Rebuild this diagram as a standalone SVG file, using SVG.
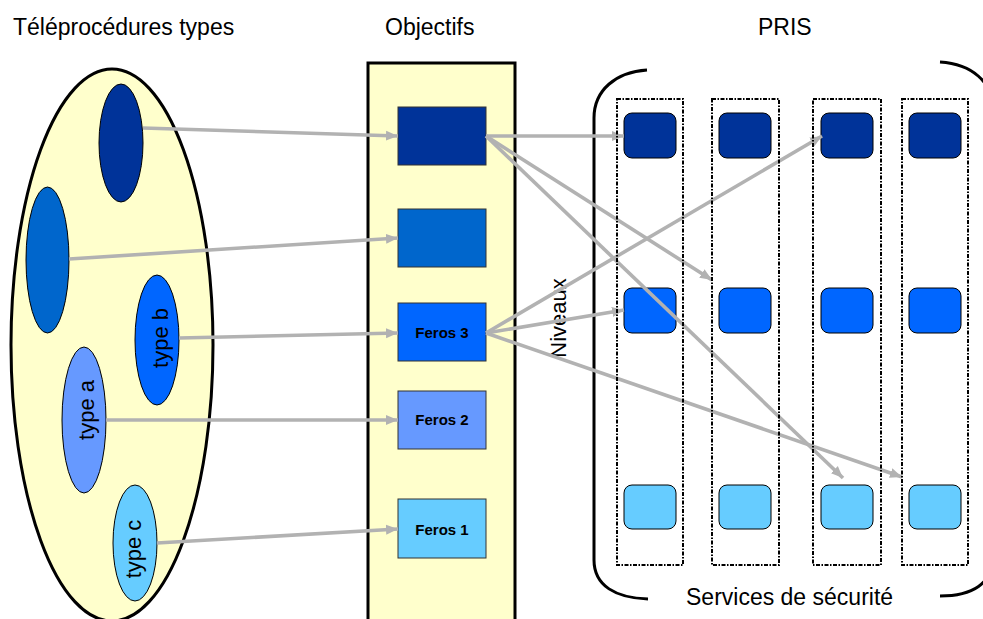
<svg xmlns="http://www.w3.org/2000/svg" width="983" height="619" viewBox="0 0 983 619">
<defs>
<marker id="ah" markerUnits="userSpaceOnUse" markerWidth="13" markerHeight="11" refX="12" refY="5.5" orient="auto">
<path d="M0,0.5 L12,5.5 L0,10.5 z" fill="#B2B2B2"/>
</marker>
<style>
.t{font-family:"Liberation Sans",Arial,sans-serif;fill:#000}
.title{font-size:23px}
.lab{font-size:22px}
.fer{font-size:15px;font-weight:bold;text-anchor:middle}
.ie{stroke:#000;stroke-width:1}
.ob{stroke:#333;stroke-width:1}
.rb{stroke:#000;stroke-width:1}
.col{fill:none;stroke:#000;stroke-width:2;stroke-dasharray:4 1.5 1.5 1.5}
.ca{stroke:#B2B2B2;stroke-width:3.6;fill:none;marker-end:url(#ah)}
.d1{fill:#003399}.d2{fill:#0066CC}.d3{fill:#0066FF}.d4{fill:#6699FF}.d5{fill:#66CCFF}
</style>
</defs>
<rect width="983" height="619" fill="#fff"/>
<g id="titles">
<text class="t title" x="13" y="35">Téléprocédures types</text>
<text class="t title" x="385" y="35">Objectifs</text>
<text class="t title" x="758" y="35">PRIS</text>
<text class="t title" x="686" y="605">Services de sécurité</text>
<text class="t lab" transform="translate(566,318) rotate(-90)" text-anchor="middle">Niveaux</text>
</g>
<g id="teleprocedures">
<ellipse cx="112" cy="345" rx="101" ry="276" fill="#FFFFCC" stroke="#000" stroke-width="3"/>
</g>
<g id="tp-1"><ellipse class="ie d1" cx="121" cy="143" rx="22" ry="59"/></g>
<g id="tp-2"><ellipse class="ie d2" cx="47.5" cy="260" rx="21.5" ry="73"/></g>
<g id="type-b"><ellipse class="ie d3" cx="157" cy="340" rx="22" ry="65"/>
<text class="t lab" transform="translate(168,338) rotate(-90)" text-anchor="middle">type b</text></g>
<g id="type-a"><ellipse class="ie d4" cx="84" cy="420" rx="22" ry="73"/>
<text class="t lab" transform="translate(94,410) rotate(-90)" text-anchor="middle">type a</text></g>
<g id="type-c"><ellipse class="ie d5" cx="135" cy="543" rx="22" ry="58"/>
<text class="t lab" transform="translate(141,549) rotate(-90)" text-anchor="middle">type c</text></g>
<g id="objectifs">
<rect x="368" y="63" width="147" height="560" fill="#FFFFCC" stroke="#000" stroke-width="3"/>
</g>
<g id="obj-1"><rect class="ob d1" x="398" y="107" width="88" height="58"/></g>
<g id="obj-2"><rect class="ob d2" x="398" y="209" width="88" height="58"/></g>
<g id="feros-3"><rect class="ob d3" x="398" y="303" width="88" height="58"/>
<text class="t fer" x="442" y="338">Feros 3</text></g>
<g id="feros-2"><rect class="ob d4" x="398" y="391" width="88" height="58"/>
<text class="t fer" x="442" y="425">Feros 2</text></g>
<g id="feros-1"><rect class="ob d5" x="398" y="499" width="88" height="59"/>
<text class="t fer" x="442" y="535">Feros 1</text></g>
<g id="pris-bracket" fill="none" stroke="#000" stroke-width="3">
<path d="M647,70 C616,72 594,90 594,118 L594,560 C594,586 616,598 648,599"/>
<path d="M940,62 C972,64 993,82 993,110 L993,556 C993,584 972,596 940,596"/>
</g>
<g id="pris-r1c1"><rect class="rb d1" x="624" y="113" width="52" height="45" rx="8"/></g>
<g id="pris-r1c2"><rect class="rb d1" x="719" y="113" width="52" height="45" rx="8"/></g>
<g id="pris-r1c3"><rect class="rb d1" x="821" y="113" width="52" height="45" rx="8"/></g>
<g id="pris-r1c4"><rect class="rb d1" x="909" y="113" width="52" height="45" rx="8"/></g>
<g id="pris-r2c1"><rect class="rb d3" x="624" y="288" width="52" height="45" rx="8"/></g>
<g id="pris-r2c2"><rect class="rb d3" x="719" y="288" width="52" height="45" rx="8"/></g>
<g id="pris-r2c3"><rect class="rb d3" x="821" y="288" width="52" height="45" rx="8"/></g>
<g id="pris-r2c4"><rect class="rb d3" x="909" y="288" width="52" height="45" rx="8"/></g>
<g id="pris-r3c1"><rect class="rb d5" x="624" y="485" width="52" height="44" rx="8"/></g>
<g id="pris-r3c2"><rect class="rb d5" x="719" y="485" width="52" height="44" rx="8"/></g>
<g id="pris-r3c3"><rect class="rb d5" x="821" y="485" width="52" height="44" rx="8"/></g>
<g id="pris-r3c4"><rect class="rb d5" x="909" y="485" width="52" height="44" rx="8"/></g>
<g id="connectors">
<line class="ca" x1="143" y1="128" x2="398" y2="136"/>
<line class="ca" x1="69" y1="259" x2="398" y2="238"/>
<line class="ca" x1="179" y1="338" x2="398" y2="333"/>
<line class="ca" x1="106" y1="420" x2="398" y2="420"/>
<line class="ca" x1="157" y1="543" x2="398" y2="529"/>
<line class="ca" x1="486" y1="136" x2="624" y2="136"/>
<line class="ca" x1="486" y1="136" x2="712" y2="280"/>
<line class="ca" x1="486" y1="136" x2="843" y2="478"/>
<line class="ca" x1="486" y1="333" x2="822" y2="136"/>
<line class="ca" x1="486" y1="333" x2="624" y2="310"/>
<line class="ca" x1="486" y1="333" x2="902" y2="477"/>
</g>
<g id="pris-columns">
<rect class="col" x="617" y="99" width="66" height="466"/>
<rect class="col" x="712" y="99" width="67" height="466"/>
<rect class="col" x="813" y="99" width="68" height="466"/>
<rect class="col" x="902" y="99" width="66" height="466"/>
</g>
</svg>
